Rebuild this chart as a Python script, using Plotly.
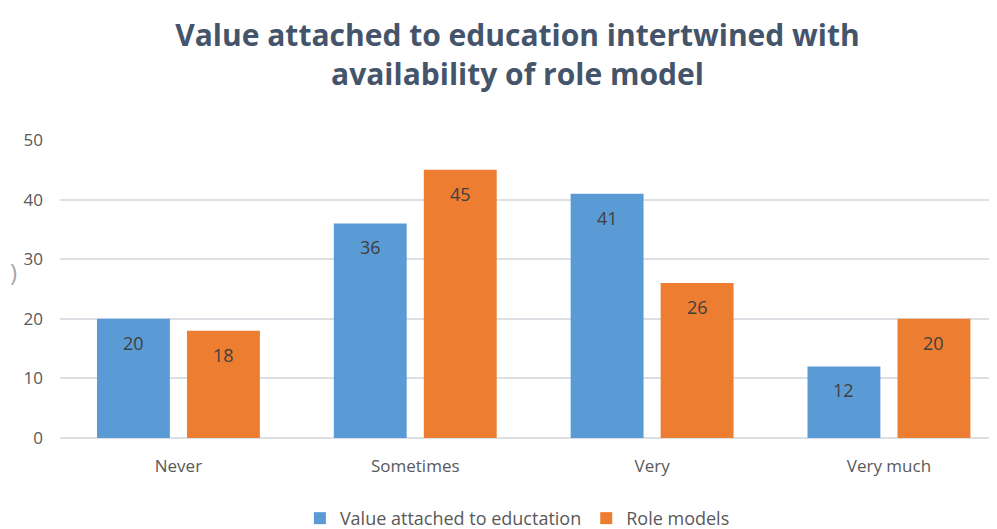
import plotly.graph_objects as go

categories = ["Never", "Sometimes", "Very", "Very much"]
value_education = [20, 36, 41, 12]
role_models = [18, 45, 26, 20]
series_names = ["Value attached to eductation", "Role models"]
y_ticks = [0, 10, 20, 30, 40, 50]

BLUE = "#5B9BD5"
ORANGE = "#ED7D31"
TXT = "#595959"
SMALL_FONT = "Open Sans, DejaVu Sans, sans-serif"

fig = go.Figure()
fig.add_trace(go.Bar(x=categories, y=value_education, name=series_names[0],
                     marker=dict(color=BLUE, line=dict(width=0))))
fig.add_trace(go.Bar(x=categories, y=role_models, name=series_names[1],
                     marker=dict(color=ORANGE, line=dict(width=0))))

annotations = []
for vals, shift in ((value_education, -45), (role_models, 45)):
    for c, v in zip(categories, vals):
        annotations.append(dict(x=c, y=v, xref="x", yref="y", text=str(v),
                                showarrow=False, xshift=shift, yshift=-10,
                                yanchor="top",
                                font=dict(family=SMALL_FONT, size=18, color="#404040")))
annotations.append(dict(x=-0.055, y=0.56, xref="paper", yref="paper", text=")",
                        showarrow=False, font=dict(family=SMALL_FONT, size=24, color="#A6A6A6")))

fig.update_layout(
    width=997, height=529,
    paper_bgcolor="white", plot_bgcolor="white",
    margin=dict(l=52, r=0, t=132, b=97),
    barmode="group", bargap=0.24, bargroupgap=0.19,
    title=dict(text="Value attached to education intertwined with<br>availability of role model",
               x=0.511, xanchor="center", y=0.928, yanchor="middle",
               font=dict(family="Open Sans, sans-serif", size=30, color="#44546A",
                         weight="bold")),
    xaxis=dict(range=[-0.5, 3.49], showgrid=False, showline=False, ticks="",
               ticklabelstandoff=16,
               tickfont=dict(family=SMALL_FONT, size=17, color=TXT)),
    yaxis=dict(range=[0, 50], tickvals=y_ticks, showgrid=True, gridcolor="#DCDFE4", gridwidth=1.5,
               zeroline=True, zerolinecolor="#DCDFE4", zerolinewidth=1.5, showline=False, ticks="",
               ticklabelstandoff=16,
               tickfont=dict(family=SMALL_FONT, size=17, color=TXT)),
    legend=dict(orientation="h", x=0.484, xanchor="center", y=-0.27, yanchor="middle",
                font=dict(family=SMALL_FONT, size=18, color=TXT), itemwidth=30,
                traceorder="normal"),
    annotations=annotations,
)

fig.write_html("out.html")
